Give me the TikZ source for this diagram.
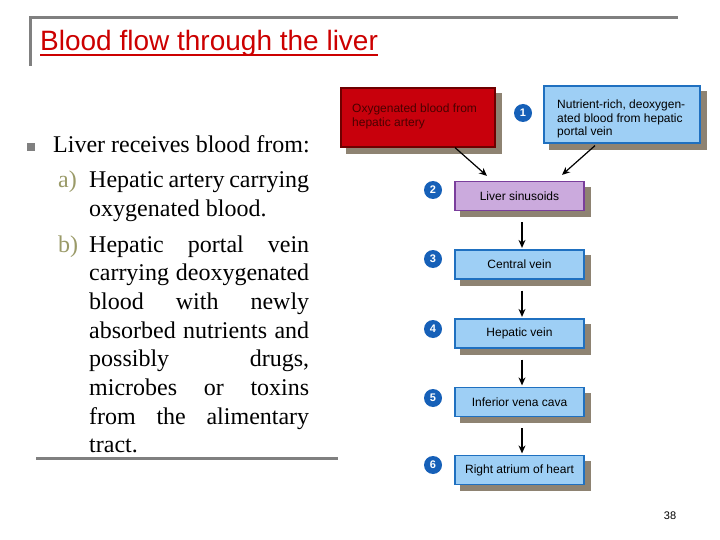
\documentclass[tikz,border=0pt]{standalone}
\usepackage{fontspec}
\setmainfont{Liberation Serif}
\newfontfamily\arialf{Liberation Sans}
\usetikzlibrary{arrows.meta}
\pgfdeclarelayer{background}
\pgfsetlayers{background,main}
\definecolor{grayline}{HTML}{808080}
\definecolor{titlered}{HTML}{CC0000}
\definecolor{redfill}{HTML}{C8000C}
\definecolor{redborder}{HTML}{6E0000}
\definecolor{redtext}{HTML}{4A0000}
\definecolor{bluefill}{HTML}{9ECFF5}
\definecolor{blueborder}{HTML}{1F70C0}
\definecolor{purplefill}{HTML}{CBAADD}
\definecolor{purpleborder}{HTML}{7A3E9C}
\definecolor{shadowc}{HTML}{8E8372}
\definecolor{numblue}{HTML}{1660B8}
\definecolor{olive}{HTML}{9A9A68}
\tikzset{
  boxbase/.style={draw, line width=1.2pt, inner sep=0pt},
  redbox/.style={boxbase, fill=redfill, draw=redborder, minimum width=154pt, minimum height=59pt},
  bluebig/.style={boxbase, fill=bluefill, draw=blueborder, minimum width=156pt, minimum height=57pt},
  stepbox/.style={boxbase, fill=bluefill, draw=blueborder, minimum width=129pt, minimum height=29pt,
    font=\arialf\fontsize{12}{14}\selectfont},
  purplebox/.style={stepbox, fill=purplefill, draw=purpleborder},
  numc/.style={circle, fill=numblue, minimum size=18pt, inner sep=0pt, text=white,
    font=\arialf\bfseries\fontsize{11}{12}\selectfont},
  arr/.style={line width=1.2pt, -{Stealth[length=8pt,width=7pt]}},
  body/.style={anchor=base west, inner sep=0pt, font=\fontsize{24}{28}\selectfont},
  lab/.style={body, text=olive},
  gl/.style={draw=grayline, line width=3pt},
  shad/.style={fill=shadowc}
}
\begin{document}
\begin{tikzpicture}[x=1pt,y=-1pt]
\useasboundingbox (0,0) rectangle (720,540);
% frame lines
\coordinate (tl) at (30,18);
\coordinate (tr) at (678,18);
\coordinate (vl) at (30,66);
\draw[gl] (vl) -- (tl) -- (tr);
\coordinate (bl) at (36,458);
\coordinate (br) at (338,458);
\draw[gl] (bl) -- (br);
% title
\node[anchor=base west, inner sep=0pt, text=titlered, font=\arialf\fontsize{28}{32}\selectfont] (title) at (40,51) {Blood flow through the liver};
\draw[titlered, line width=2pt] ([yshift=-4.5pt]title.base west) -- ([yshift=-4.5pt]title.base east);
% bullet text
\node[fill=grayline, minimum size=8pt, inner sep=0pt] (bul) at (31,147) {};
\node[body] (l1) at (53,153) {Liver receives blood from:};
\node[lab] (la) at (58,188) {a)};
\node[body] (l2) at (89,188) {\makebox[220pt][s]{Hepatic artery carrying}};
\node[body] (l3) at (89,216.5) {oxygenated blood.};
\node[lab] (lb) at (58,252) {b)};
\node[body] (l4) at (89,252) {\makebox[220pt][s]{Hepatic portal vein}};
\node[body] (l5) at (89,280.5) {\makebox[220pt][s]{carrying deoxygenated}};
\node[body] (l6) at (89,309) {\makebox[220pt][s]{blood with newly}};
\node[body] (l7) at (89,338) {\makebox[220pt][s]{absorbed nutrients and}};
\node[body] (l8) at (89,366.5) {\makebox[220pt][s]{possibly drugs,}};
\node[body] (l9) at (89,395) {\makebox[220pt][s]{microbes or toxins}};
\node[body] (l10) at (89,424) {\makebox[220pt][s]{from the alimentary}};
\node[body] (l11) at (89,452.5) {tract.};
% diagram
\node[redbox] (red) at (418,117.5) {};
\node[anchor=north west, inner sep=0pt, align=left, text=redtext,
  font=\arialf\fontsize{12}{13.5}\selectfont] (redt) at (352,104) {Oxygenated blood from\\hepatic artery};
\node[bluebig] (blu) at (622,114.5) {};
\node[anchor=north west, inner sep=0pt, align=left,
  font=\arialf\fontsize{12}{13.5}\selectfont] (blut) at (557,100) {Nutrient-rich, deoxygen-\\ated blood from hepatic\\portal vein};
\node[numc] (n1) at (523,113) {1};
\node[purplebox] (b2) at (519.5,196) {Liver sinusoids};
\node[stepbox] (b3) at (519.5,264.5) {Central vein};
\node[stepbox] (b4) at (519.5,333.5) {Hepatic vein};
\node[stepbox] (b5) at (519.5,402) {Inferior vena cava};
\node[stepbox] (b6) at (519.5,470) {Right atrium of heart};
\begin{pgfonlayer}{background}
\foreach \b in {red,blu,b2,b3,b4,b5,b6}{
  \fill[shad] ([shift={(6,6)}]\b.north west) rectangle ([shift={(6,6)}]\b.south east);
}
\end{pgfonlayer}
\node[numc] (n2) at (433,190) {2};
\node[numc] (n3) at (433,259) {3};
\node[numc] (n4) at (433,329) {4};
\node[numc] (n5) at (433,398) {5};
\node[numc] (n6) at (433,465) {6};
\draw[arr] ([xshift=37pt]red.south) -- ([xshift=-32.5pt,yshift=5pt]b2.north);
\draw[arr] ([xshift=-27pt,yshift=-2pt]blu.south) -- ([xshift=42.5pt,yshift=6pt]b2.north);
\draw[arr] ([xshift=2.5pt,yshift=-11pt]b2.south) -- ([xshift=2.5pt,yshift=1.5pt]b3.north);
\draw[arr] ([xshift=2.5pt,yshift=-11pt]b3.south) -- ([xshift=2.5pt,yshift=1.5pt]b4.north);
\draw[arr] ([xshift=2.5pt,yshift=-11pt]b4.south) -- ([xshift=2.5pt,yshift=1.5pt]b5.north);
\draw[arr] ([xshift=2.5pt,yshift=-11pt]b5.south) -- ([xshift=2.5pt,yshift=1.5pt]b6.north);
% page number
\node[font=\arialf\fontsize{11}{13}\selectfont, inner sep=0pt] (pg) at (670,516) {38};
\end{tikzpicture}
\end{document}
